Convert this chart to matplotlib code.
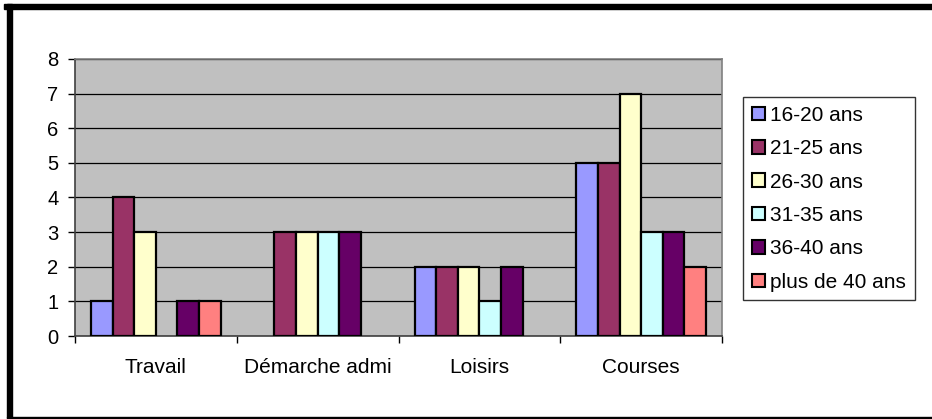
import matplotlib
matplotlib.use('Agg')
import matplotlib.pyplot as plt
import numpy as np
from matplotlib.patches import Rectangle

# categories and series
categories = ['Travail', 'Démarche admi', 'Loisirs', 'Courses']
series_names = ['16-20 ans', '21-25 ans', '26-30 ans', '31-35 ans', '36-40 ans', 'plus de 40 ans']
values = [
    [1, 0, 2, 5],   # 16-20 ans
    [4, 3, 2, 5],   # 21-25 ans
    [3, 3, 2, 7],   # 26-30 ans
    [0, 3, 1, 3],   # 31-35 ans
    [1, 3, 2, 3],   # 36-40 ans
    [1, 0, 0, 2],   # plus de 40 ans
]
colors = ['#9999FF', '#993366', '#FFFFCC', '#CCFFFF', '#660066', '#FF8080']
y_ticks = [0, 1, 2, 3, 4, 5, 6, 7, 8]

plt.rcParams['font.family'] = ['Liberation Sans', 'DejaVu Sans']

fig = plt.figure(figsize=(9.32, 4.19), dpi=100)
ax = fig.add_axes([75 / 932, 1 - 336 / 419, (722 - 75) / 932, (336 - 59) / 419])
ax.set_facecolor('#C0C0C0')

n = len(series_names)
width = 1 / (n + 1.5)
x = np.arange(len(categories))
for i, name in enumerate(series_names):
    offs = (i - (n - 1) / 2) * width
    v = np.array(values[i])
    keep = v > 0  # excel draws nothing for empty cells
    ax.bar(x[keep] + offs, v[keep], width, color=colors[i], edgecolor='black',
           linewidth=1.6, label=name, zorder=3)

ax.set_xlim(-0.5, len(categories) - 0.5)
ax.set_ylim(0, 8)
ax.set_yticks(y_ticks)
ax.yaxis.grid(True, color='black', linewidth=0.9, zorder=1)
ax.set_axisbelow(True)

ax.set_xticks(x)
ax.set_xticklabels(categories, fontsize=15)
ax.tick_params(axis='x', which='major', length=0, pad=16)
ax.set_xticks(np.arange(-0.5, len(categories), 1), minor=True)
ax.tick_params(axis='x', which='minor', length=5, width=1, direction='out')
ax.tick_params(axis='y', labelsize=14.5, length=5, width=1, direction='out', pad=7)

for s in ['top', 'right']:
    ax.spines[s].set_color('#808080')
    ax.spines[s].set_linewidth(1.2)
for s in ['left', 'bottom']:
    ax.spines[s].set_color('#404040')
    ax.spines[s].set_linewidth(1.2)

leg = fig.legend(loc='upper left', bbox_to_anchor=(743 / 932, 1 - 97 / 419),
                 bbox_transform=fig.transFigure, fontsize=15, frameon=True,
                 fancybox=False, borderaxespad=0, handlelength=0.62,
                 handleheight=0.62, handletextpad=0.28, labelspacing=0.69,
                 borderpad=0.42)
leg.get_frame().set_edgecolor('black')
leg.get_frame().set_linewidth(1.0)
for h in leg.legend_handles:
    h.set_linewidth(1.5)

# outer black frame of the chart (right side cut off)
W, H = 932, 419
fig.patches.append(Rectangle((4 / W, 1 - 9 / H), 1, 5 / H, transform=fig.transFigure,
                             color='black', zorder=10))
fig.patches.append(Rectangle((7 / W, 1 - 418 / H), 5 / W, 414 / H, transform=fig.transFigure,
                             color='black', zorder=10))
fig.patches.append(Rectangle((7 / W, 1 - 418 / H), 1, 1.5 / H, transform=fig.transFigure,
                             color='black', zorder=10))

fig.savefig('out.png', dpi=100, facecolor='white')
